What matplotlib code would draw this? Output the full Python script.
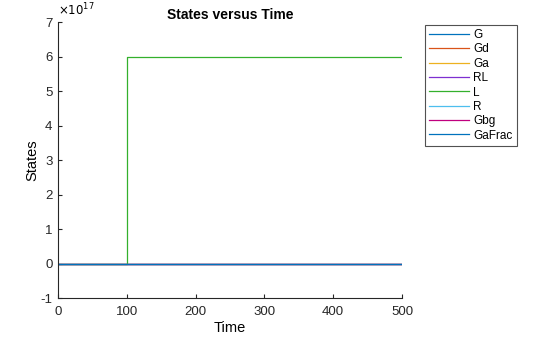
import numpy as np
import matplotlib.pyplot as plt

# simulation output: step in L at t = 100, everything else stays at zero
time = [0, 100, 100, 500]
G = [0, 0, 0, 0]
Gd = [0, 0, 0, 0]
Ga = [0, 0, 0, 0]
RL = [0, 0, 0, 0]
L = [0, 0, 6.0e17, 6.0e17]
R = [0, 0, 0, 0]
Gbg = [0, 0, 0, 0]
GaFrac = [0, 0, 0, 0]

names = ["G", "Gd", "Ga", "RL", "L", "R", "Gbg", "GaFrac"]
colors = ["#0072BD", "#D95319", "#EDB120", "#7E2FD0", "#34B02C", "#4DBEEE", "#C0007F", "#0072BD"]

plt.rcParams['font.family'] = ['Arial', 'Liberation Sans', 'DejaVu Sans']

fig = plt.figure(figsize=(5.6, 3.37), dpi=100)
ax = fig.add_axes([0.1036, 0.1157, 0.6143, 0.819])

series = [G, Gd, Ga, RL, L, R, Gbg, GaFrac]
for i in range(len(series)):
    ax.plot(time, series[i], color=colors[i], lw=0.9, label=names[i])

ax.set_xlim(0, 500)
ax.set_ylim(-1e17, 7e17)
ax.set_xticks(range(0, 501, 100))
ax.set_yticks(np.arange(-1, 8) * 1e17)
ax.set_yticklabels([str(v) for v in range(-1, 8)])
ax.text(0.0, 1.015, r"$\times10^{17}$", transform=ax.transAxes, fontsize=8.5, va='bottom', ha='left')

for side in ["top", "right"]:
    ax.spines[side].set_visible(False)
for side in ["left", "bottom"]:
    ax.spines[side].set_color("#262626")
    ax.spines[side].set_linewidth(0.8)
ax.tick_params(direction='in', length=3, width=0.8, labelsize=9.5, colors="#262626")
ax.tick_params(axis='x', pad=6)
ax.tick_params(axis='y', pad=4)

ax.set_title("States versus Time", fontsize=10, fontweight='bold', pad=2.5)
ax.set_xlabel("Time", fontsize=10.5, labelpad=2)
ax.set_ylabel("States", fontsize=10.5, labelpad=1)

leg = fig.legend(loc="upper left", bbox_to_anchor=(0.759, 0.926), fontsize=8.5,
                 fancybox=False, edgecolor="#262626", handlelength=3.4,
                 labelspacing=0.2, handletextpad=0.35, borderpad=0.35, borderaxespad=0)
leg.get_frame().set_linewidth(0.8)

fig.savefig("out.png", dpi=100)
